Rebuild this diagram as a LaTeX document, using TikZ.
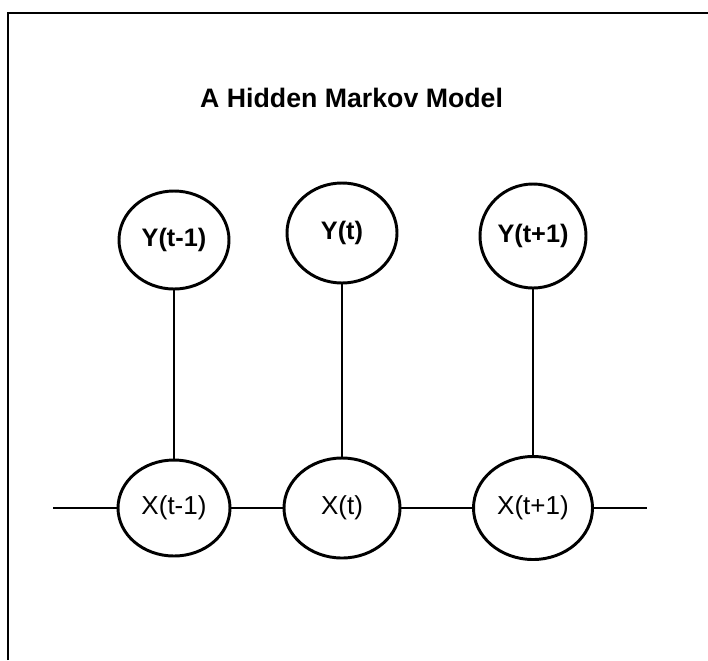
\documentclass[tikz,border=0pt]{standalone}
\usepackage{fontspec}
\setmainfont{Liberation Sans}
\usetikzlibrary{shapes.geometric, positioning}

\begin{document}
\begin{tikzpicture}[
    % Define styles
    title/.style={anchor=base, font=\fontsize{19}{23}\selectfont\bfseries},
    observed/.style={ellipse, draw, line width=2.1pt, inner sep=0pt, text centered, font=\fontsize{18}{22}\selectfont\bfseries},
    hidden/.style={ellipse, draw, line width=2.1pt, inner sep=0pt, text centered, font=\fontsize{18.5}{22}\selectfont},
    frame/.style={line width=1.5pt},
    line/.style={-, line width=1.9pt}
]
\useasboundingbox (0,0) rectangle (17.7,-16.5);

% Frame (top and left edges only)
\draw[frame] (0.2,-16.5) |- (17.7,-0.325);

% Title
\node[title] (model_title) at (8.79,-2.675) {A Hidden Markov Model};

% Observed states
\node[observed, minimum width=2.75cm, minimum height=2.45cm] (y_prev) at (4.35,-6.0) {Y(t-1)};
\node[observed, minimum width=2.75cm, minimum height=2.5cm] (y_t) at (8.55,-5.825) {Y(t)};
\node[observed, minimum width=2.65cm, minimum height=2.6cm] (y_next) at (13.325,-5.9) {Y(t+1)};

% Hidden states
\node[hidden, minimum width=2.8cm, minimum height=2.4cm] (x_prev) at (4.35,-12.7) {X(t-1)};
\node[hidden, minimum width=2.9cm, minimum height=2.5cm] (x_t) at (8.55,-12.7) {X(t)};
\node[hidden, minimum width=2.975cm, minimum height=2.575cm] (x_next) at (13.325,-12.7) {X(t+1)};

% Open ends of the chain
\coordinate (chain_in) at (1.325,-12.7);
\coordinate (chain_out) at (16.175,-12.7);

% Connect hidden states to observations
\draw[line] (x_prev) -- (y_prev);
\draw[line] (x_t) -- (y_t);
\draw[line] (x_next) -- (y_next);

% Connect hidden states along the chain
\draw[line] (chain_in) -- (x_prev);
\draw[line] (x_prev) -- (x_t);
\draw[line] (x_t) -- (x_next);
\draw[line] (x_next) -- (chain_out);

\end{tikzpicture}
\end{document}
